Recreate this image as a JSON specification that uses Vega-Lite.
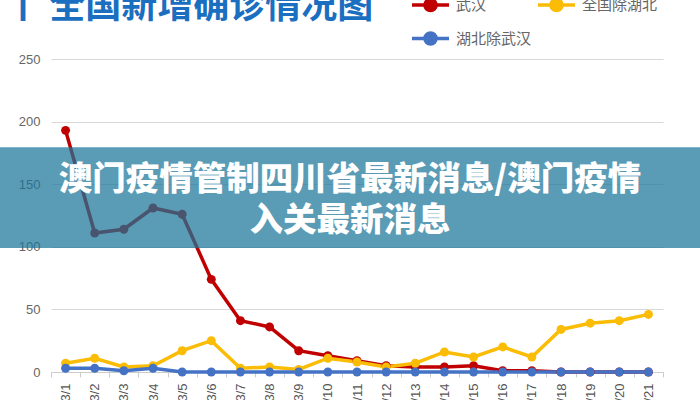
{
  "$schema": "https://vega.github.io/schema/vega-lite/v6.json",
  "width": 612,
  "height": 313,
  "autosize": {"type": "none"},
  "padding": {"left": 51, "top": 59, "right": 37, "bottom": 28},
  "background": "white",
  "config": {"view": {"stroke": null}, "font": "Noto Sans CJK SC"},
  "title": {
    "text": "丨 全国新增确诊情况图",
    "anchor": "start",
    "fontSize": 36,
    "fontWeight": "bold",
    "color": "#1a6fc0",
    "font": "Noto Sans CJK SC",
    "offset": 0,
    "dy": 42,
    "dx": 5
  },
  "layer": [
    {
      "data": {
        "values": [
          {"date": "3/1", "series": "武汉", "value": 193},
          {"date": "3/2", "series": "武汉", "value": 111},
          {"date": "3/3", "series": "武汉", "value": 114},
          {"date": "3/4", "series": "武汉", "value": 131},
          {"date": "3/5", "series": "武汉", "value": 126},
          {"date": "3/6", "series": "武汉", "value": 74},
          {"date": "3/7", "series": "武汉", "value": 41},
          {"date": "3/8", "series": "武汉", "value": 36},
          {"date": "3/9", "series": "武汉", "value": 17},
          {"date": "3/10", "series": "武汉", "value": 13},
          {"date": "3/11", "series": "武汉", "value": 9},
          {"date": "3/12", "series": "武汉", "value": 5},
          {"date": "3/13", "series": "武汉", "value": 4},
          {"date": "3/14", "series": "武汉", "value": 4},
          {"date": "3/15", "series": "武汉", "value": 5},
          {"date": "3/16", "series": "武汉", "value": 1},
          {"date": "3/17", "series": "武汉", "value": 1},
          {"date": "3/18", "series": "武汉", "value": 0},
          {"date": "3/19", "series": "武汉", "value": 0},
          {"date": "3/20", "series": "武汉", "value": 0},
          {"date": "3/21", "series": "武汉", "value": 0},
          {"date": "3/1", "series": "全国除湖北", "value": 7},
          {"date": "3/2", "series": "全国除湖北", "value": 11},
          {"date": "3/3", "series": "全国除湖北", "value": 4},
          {"date": "3/4", "series": "全国除湖北", "value": 5},
          {"date": "3/5", "series": "全国除湖北", "value": 17},
          {"date": "3/6", "series": "全国除湖北", "value": 25},
          {"date": "3/7", "series": "全国除湖北", "value": 3},
          {"date": "3/8", "series": "全国除湖北", "value": 4},
          {"date": "3/9", "series": "全国除湖北", "value": 2},
          {"date": "3/10", "series": "全国除湖北", "value": 11},
          {"date": "3/11", "series": "全国除湖北", "value": 8},
          {"date": "3/12", "series": "全国除湖北", "value": 4},
          {"date": "3/13", "series": "全国除湖北", "value": 7},
          {"date": "3/14", "series": "全国除湖北", "value": 16},
          {"date": "3/15", "series": "全国除湖北", "value": 12},
          {"date": "3/16", "series": "全国除湖北", "value": 20},
          {"date": "3/17", "series": "全国除湖北", "value": 12},
          {"date": "3/18", "series": "全国除湖北", "value": 34},
          {"date": "3/19", "series": "全国除湖北", "value": 39},
          {"date": "3/20", "series": "全国除湖北", "value": 41},
          {"date": "3/21", "series": "全国除湖北", "value": 46},
          {"date": "3/1", "series": "湖北除武汉", "value": 3},
          {"date": "3/2", "series": "湖北除武汉", "value": 3},
          {"date": "3/3", "series": "湖北除武汉", "value": 1},
          {"date": "3/4", "series": "湖北除武汉", "value": 3},
          {"date": "3/5", "series": "湖北除武汉", "value": 0},
          {"date": "3/6", "series": "湖北除武汉", "value": 0},
          {"date": "3/7", "series": "湖北除武汉", "value": 0},
          {"date": "3/8", "series": "湖北除武汉", "value": 0},
          {"date": "3/9", "series": "湖北除武汉", "value": 0},
          {"date": "3/10", "series": "湖北除武汉", "value": 0},
          {"date": "3/11", "series": "湖北除武汉", "value": 0},
          {"date": "3/12", "series": "湖北除武汉", "value": 0},
          {"date": "3/13", "series": "湖北除武汉", "value": 0},
          {"date": "3/14", "series": "湖北除武汉", "value": 0},
          {"date": "3/15", "series": "湖北除武汉", "value": 0},
          {"date": "3/16", "series": "湖北除武汉", "value": 0},
          {"date": "3/17", "series": "湖北除武汉", "value": 0},
          {"date": "3/18", "series": "湖北除武汉", "value": 0},
          {"date": "3/19", "series": "湖北除武汉", "value": 0},
          {"date": "3/20", "series": "湖北除武汉", "value": 0},
          {"date": "3/21", "series": "湖北除武汉", "value": 0}
        ]
      },
      "mark": {"type": "line", "strokeWidth": 3.5, "point": {"filled": true, "size": 80, "opacity": 1}},
      "encoding": {
        "x": {
          "field": "date",
          "type": "ordinal",
          "sort": null,
          "bandPosition": 0.5,
          "scale": {"type": "band", "paddingInner": 0, "paddingOuter": 0},
          "axis": {
            "title": null,
            "labelAngle": 270,
            "labelFontSize": 13,
            "labelColor": "#555",
            "labelFont": "Liberation Sans",
            "domainColor": "#cccccc",
            "tickColor": "#cccccc",
            "tickSize": 5,
            "tickBand": "extent",
            "labelPadding": 6,
            "grid": false
          }
        },
        "y": {
          "field": "value",
          "type": "quantitative",
          "scale": {"domain": [0, 250], "nice": false},
          "axis": {
            "title": null,
            "values": [0, 50, 100, 150, 200, 250],
            "domain": false,
            "ticks": false,
            "gridColor": "#d9d9d9",
            "labelFontSize": 13,
            "labelColor": "#666",
            "labelFont": "Liberation Sans",
            "labelPadding": 11
          }
        },
        "color": {
          "field": "series",
          "type": "nominal",
          "scale": {"domain": ["武汉", "湖北除武汉", "全国除湖北"], "range": ["#c00000", "#4472c4", "#fbbc05"]},
          "legend": {
            "orient": "none",
            "legendX": 359,
            "legendY": -75,
            "columns": 2,
            "title": null,
            "symbolType": "M-1,0L1,0M-0.3,0A0.3,0.3,0,1,1,0.3,0A0.3,0.3,0,1,1,-0.3,0",
            "symbolSize": 1369,
            "symbolStrokeWidth": 3.5,
            "labelFontSize": 15,
            "labelColor": "#666",
            "labelFont": "Noto Sans CJK SC",
            "labelOffset": 5,
            "columnPadding": -1,
            "rowPadding": -5,
            "padding": 0,
            "encode": {"symbols": {"update": {"fill": {"scale": "color", "field": "value"}}}}
          }
        }
      }
    },
    {
      "data": {"values": [{}]},
      "mark": {"type": "rect", "fill": "#1a7599", "opacity": 0.72},
      "encoding": {
        "y": {"datum": 179.5},
        "y2": {"datum": 99},
        "x": {"value": {"expr": "-padding.left"}},
        "x2": {"value": {"expr": "width + padding.right"}}
      }
    },
    {
      "data": {"values": [{}]},
      "mark": {
        "type": "text",
        "text": ["澳门疫情管制四川省最新消息/澳门疫情", "入关最新消息"],
        "lineHeight": 41,
        "fontSize": 33.5,
        "fontWeight": 900,
        "color": "white",
        "font": "Noto Sans CJK SC",
        "align": "center",
        "baseline": "middle"
      },
      "encoding": {
        "x": {"value": {"expr": "(width + padding.right - padding.left) / 2"}},
        "y": {"datum": 153.4}
      }
    }
  ]
}
